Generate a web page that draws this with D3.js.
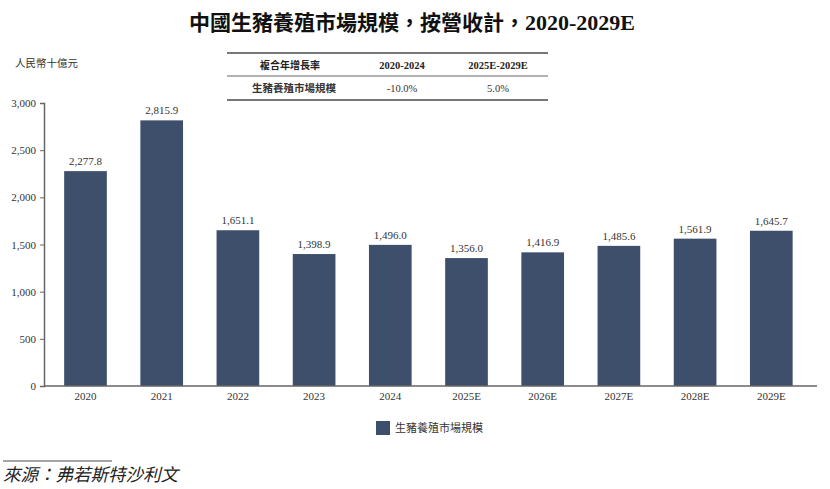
<!DOCTYPE html>
<html><head><meta charset="utf-8">
<script src="https://cdn.jsdelivr.net/npm/d3@7"></script>
<style>body{margin:0;background:#fff;}svg{display:block;}</style>
</head><body>
<svg id="c" width="830" height="489"></svg>
<script>
const categories = ["2020","2021","2022","2023","2024","2025E","2026E","2027E","2028E","2029E"];
const values = [2277.8, 2815.9, 1651.1, 1398.9, 1496.0, 1356.0, 1416.9, 1485.6, 1561.9, 1645.7];
const yTicks = [0, 500, 1000, 1500, 2000, 2500, 3000];
const seriesName = "生豬養殖市場規模";
const title = "中國生豬養殖市場規模，按營收計，";
const titleYears = "2020-2029E";
const unit = "人民幣十億元";
const tableHeader = ["複合年增長率", "2020-2024", "2025E-2029E"];
const tableRow = ["生豬養殖市場規模", "-10.0%", "5.0%"];
const source = "來源：弗若斯特沙利文";

const CJK = "'Noto Sans CJK TC','Noto Sans CJK SC',sans-serif";
const SERIF = "'Liberation Serif','DejaVu Serif',serif";
const barColor = "#3e4f6b";
const svg = d3.select("#c");

const x = d3.scaleBand().domain(categories).range([47.4, 809.4]).paddingInner(0.44).paddingOuter(0.22);
const y = d3.scaleLinear().domain([0, 3000]).range([386, 103]);

// Title
const t = svg.append("text").attr("x", 412).attr("y", 30).attr("text-anchor", "middle")
  .attr("font-size", 21).attr("font-weight", "bold").attr("fill", "#111");
t.append("tspan").attr("font-family", CJK).text(title);
t.append("tspan").attr("font-family", SERIF).attr("font-size", 22).text(titleYears);

// Unit
svg.append("text").attr("x", 15).attr("y", 67).attr("font-family", CJK).attr("font-size", 10.5)
  .attr("fill", "#333").text(unit);

// Table
const tg = svg.append("g");
[53, 76, 100].forEach((ly, i) => {
  tg.append("line").attr("x1", 227).attr("x2", 548).attr("y1", ly).attr("y2", ly)
    .attr("stroke", i === 1 ? "#999" : "#777").attr("stroke-width", i === 1 ? 1.5 : 2);
});
const colX = [290, 402, 498];
tableHeader.forEach((s, i) => {
  tg.append("text").attr("x", colX[i]).attr("y", 69).attr("text-anchor", "middle")
    .attr("font-family", i === 0 ? CJK : SERIF).attr("font-weight", "bold")
    .attr("font-size", i === 0 ? 10 : 10.5).attr("fill", "#222").text(s);
});
tableRow.forEach((s, i) => {
  tg.append("text").attr("x", i === 0 ? 294 : colX[i]).attr("y", 92).attr("text-anchor", "middle")
    .attr("font-family", i === 0 ? CJK : SERIF).attr("font-weight", i === 0 ? "bold" : "normal")
    .attr("font-size", 10.5).attr("fill", "#333").text(s);
});

// Y axis
const ya = svg.append("g").attr("transform", "translate(44,0)")
  .call(d3.axisLeft(y).tickValues(yTicks).tickSize(4).tickPadding(4).tickFormat(d3.format(",")));
ya.select(".domain").attr("stroke", "#666").attr("stroke-width", 1.5);
ya.selectAll(".tick line").attr("stroke", "#666");
ya.selectAll(".tick text").attr("font-family", SERIF).attr("font-size", 11).attr("fill", "#333");

// Bars
svg.append("g").selectAll("rect").data(values).join("rect")
  .attr("x", (d, i) => x(categories[i])).attr("width", x.bandwidth())
  .attr("y", d => y(d)).attr("height", d => y(0) - y(d)).attr("fill", barColor);

// Value labels
svg.append("g").selectAll("text").data(values).join("text")
  .attr("x", (d, i) => x(categories[i]) + x.bandwidth() / 2).attr("y", d => y(d) - 6)
  .attr("text-anchor", "middle").attr("font-family", SERIF).attr("font-size", 11).attr("fill", "#333")
  .text(d => d3.format(",.1f")(d));

// X axis
const xa = svg.append("g").attr("transform", "translate(0,386)")
  .call(d3.axisBottom(x).tickSize(0).tickPadding(6));
xa.select(".domain").remove();
svg.append("line").attr("x1", 44).attr("x2", 817).attr("y1", 386).attr("y2", 386)
  .attr("stroke", "#666").attr("stroke-width", 1.5);
xa.selectAll(".tick text").attr("font-family", SERIF).attr("font-size", 11).attr("fill", "#333");

// Legend
svg.append("rect").attr("x", 376).attr("y", 421).attr("width", 14).attr("height", 14).attr("fill", barColor);
svg.append("text").attr("x", 395).attr("y", 432).attr("font-family", CJK).attr("font-size", 11)
  .attr("fill", "#333").text(seriesName);

// Source
svg.append("line").attr("x1", 3).attr("x2", 112).attr("y1", 461).attr("y2", 461)
  .attr("stroke", "#888").attr("stroke-width", 1.5);
svg.append("text").attr("x", 3).attr("y", 481).attr("font-family", CJK).attr("font-size", 17.5)
  .attr("font-style", "italic").attr("fill", "#222").text(source);
</script>
</body></html>
